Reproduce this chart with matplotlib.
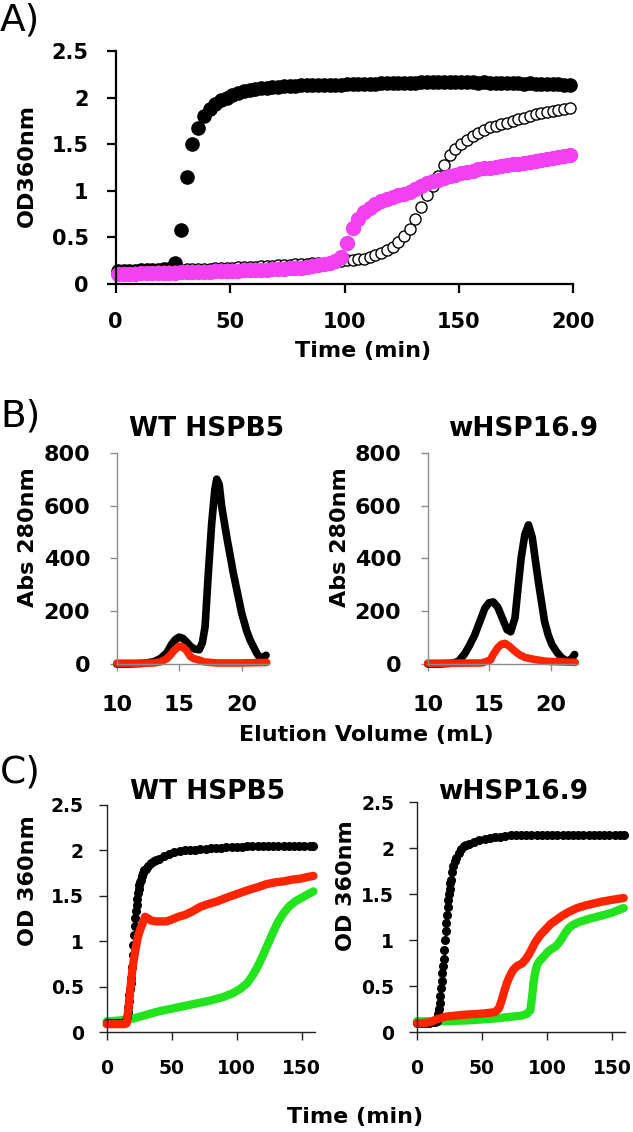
import numpy as np
import matplotlib
matplotlib.use('Agg')
import matplotlib.pyplot as plt
from matplotlib.ticker import FormatStrFormatter

plt.rcParams['font.family'] = 'DejaVu Sans'

# ---------------- data ----------------
# A) OD360 aggregation, one reading every 2.5 min
time_a = np.arange(1, 200, 2.5)
od_a_ctrl = [0.14, 0.14, 0.14, 0.14, 0.15, 0.15, 0.15, 0.15, 0.16, 0.16,
             0.22, 0.58, 1.15, 1.50, 1.67, 1.80, 1.88, 1.93, 1.97, 2.00,
             2.03, 2.05, 2.07, 2.08, 2.09, 2.10, 2.10, 2.11, 2.11, 2.12,
             2.12, 2.12, 2.13, 2.13, 2.13, 2.13, 2.14, 2.14, 2.14, 2.14,
             2.15, 2.15, 2.15, 2.15, 2.15, 2.15, 2.16, 2.16, 2.16, 2.16,
             2.16, 2.16, 2.16, 2.17, 2.17, 2.17, 2.17, 2.17, 2.17, 2.17,
             2.17, 2.17, 2.17, 2.16, 2.17, 2.16, 2.16, 2.16, 2.16, 2.16,
             2.16, 2.15, 2.16, 2.15, 2.15, 2.15, 2.15, 2.15, 2.14, 2.14]
od_a_open = [0.13, 0.13, 0.13, 0.14, 0.14, 0.14, 0.14, 0.15, 0.15, 0.15,
             0.15, 0.15, 0.16, 0.16, 0.16, 0.16, 0.16, 0.17, 0.17, 0.17,
             0.17, 0.18, 0.18, 0.18, 0.18, 0.19, 0.19, 0.19, 0.20, 0.20,
             0.20, 0.21, 0.21, 0.21, 0.22, 0.22, 0.23, 0.23, 0.24, 0.25,
             0.26, 0.26, 0.27, 0.27, 0.29, 0.31, 0.33, 0.36, 0.40, 0.45,
             0.51, 0.59, 0.70, 0.83, 0.95, 1.05, 1.16, 1.28, 1.38, 1.45,
             1.50, 1.55, 1.59, 1.62, 1.65, 1.68, 1.70, 1.72, 1.73, 1.75,
             1.77, 1.78, 1.80, 1.82, 1.84, 1.85, 1.86, 1.87, 1.88, 1.89]
od_a_mag = [0.11, 0.11, 0.11, 0.11, 0.12, 0.12, 0.12, 0.12, 0.12, 0.12,
            0.12, 0.13, 0.13, 0.13, 0.13, 0.13, 0.13, 0.14, 0.14, 0.14,
            0.14, 0.14, 0.15, 0.15, 0.15, 0.15, 0.15, 0.16, 0.16, 0.16,
            0.17, 0.17, 0.17, 0.18, 0.19, 0.20, 0.21, 0.22, 0.25, 0.29,
            0.44, 0.60, 0.70, 0.77, 0.82, 0.86, 0.89, 0.91, 0.93, 0.95,
            0.97, 0.99, 1.02, 1.05, 1.08, 1.10, 1.12, 1.14, 1.16, 1.17,
            1.19, 1.20, 1.21, 1.23, 1.24, 1.25, 1.26, 1.27, 1.28, 1.29,
            1.29, 1.30, 1.31, 1.32, 1.33, 1.34, 1.35, 1.36, 1.37, 1.38]

# B) SEC traces, Abs 280 nm
vol_b1_blk = [10, 11, 12, 12.5, 13, 13.5, 14, 14.4, 14.7, 15, 15.3, 15.6, 15.9, 16.2,
              16.6, 16.85, 17.07, 17.33, 17.6, 17.85, 18.0, 18.2, 18.4, 18.8, 19.33,
              19.7, 20.0, 20.4, 20.67, 21.0, 21.2, 21.47, 21.7, 21.95]
abs_b1_blk = [0, 0, 2, 5, 9, 21, 42, 75, 93, 102, 97, 83, 67, 57,
              54, 80, 141, 344, 533, 660, 700, 680, 596, 482, 344,
              260, 192, 125, 91, 60, 41, 22, 25, 33]
vol_b1_red = [10, 12, 13, 13.5, 14, 14.3, 14.6, 15, 15.3, 15.6, 15.9, 16.2, 16.6, 17, 18, 20, 22]
abs_b1_red = [3, 3, 4, 8, 20, 34, 52, 68, 64, 50, 28, 20, 15, 8, 4, 4, 6]

vol_b2_blk = [10, 11, 12, 12.5, 13, 13.4, 13.84, 14.25, 14.66, 15.0, 15.33, 15.7, 16.1,
              16.45, 16.75, 17.1, 17.35, 17.6, 17.9, 18.2, 18.5, 19.0, 19.5, 19.8,
              20.1, 20.5, 20.9, 21.4, 21.7, 21.95]
abs_b2_blk = [0, 0, 3, 10, 38, 70, 112, 162, 212, 232, 235, 215, 170,
              130, 122, 174, 290, 401, 490, 527, 480, 312, 162, 110,
              74, 45, 23, 10, 20, 36]
vol_b2_red = [10, 12, 14.4, 15.1, 15.33, 15.7, 16.0, 16.3, 16.7, 17.1, 17.5, 17.9, 18.7, 19.7, 22]
abs_b2_red = [3, 3, 4, 15, 36, 62, 75, 78, 65, 48, 34, 25, 17, 10, 6]

# C) OD360 with chaperones
t_c1_blk = [0, 3, 6, 9, 12, 14, 15, 15.5, 16, 16.5, 17, 17.5, 18, 18.5, 19, 19.5, 20,
            20.5, 21, 21.5, 22, 22.5, 23, 23.5, 24, 24.5, 25, 25.5, 26, 27, 28, 29, 30,
            32, 34, 36, 38, 40, 44, 48, 52, 56, 60, 64, 68, 72, 76, 80, 84, 88, 92, 96,
            100, 104, 108, 112, 116, 120, 124, 128, 132, 136, 140, 144, 148, 152, 156, 159]
od_c1_blk = [0.10, 0.10, 0.10, 0.10, 0.10, 0.11, 0.13, 0.17, 0.22, 0.28, 0.34, 0.41, 0.48, 0.54, 0.60, 0.72, 0.85,
             0.96, 1.07, 1.17, 1.26, 1.33, 1.40, 1.47, 1.53, 1.58, 1.62, 1.65, 1.68, 1.72, 1.75, 1.78, 1.80,
             1.83, 1.86, 1.88, 1.90, 1.91, 1.94, 1.96, 1.98, 1.99, 2.00, 2.01, 2.01, 2.02, 2.02, 2.03, 2.03, 2.03, 2.04, 2.04,
             2.04, 2.04, 2.05, 2.05, 2.05, 2.05, 2.05, 2.05, 2.05, 2.05, 2.05, 2.05, 2.05, 2.05, 2.05, 2.05]
t_c1_red = [0, 5, 10, 14, 15.4, 16, 17, 18, 20, 22, 24, 26, 28, 29.5, 31, 34, 38, 42, 46,
            50, 55, 60, 66, 72, 78, 85, 92, 98, 104, 110, 117, 123, 130, 136, 143, 149, 155, 159]
od_c1_red = [0.09, 0.09, 0.09, 0.09, 0.10, 0.18, 0.30, 0.45, 0.72, 0.90, 1.05, 1.14, 1.21, 1.27, 1.26, 1.23, 1.22, 1.22, 1.22,
             1.24, 1.27, 1.29, 1.33, 1.38, 1.41, 1.44, 1.48, 1.51, 1.54, 1.57, 1.60, 1.63, 1.65, 1.66, 1.68, 1.69, 1.71, 1.72]
t_c1_grn = [0, 10, 20, 30, 40, 50, 60, 70, 80, 90, 97, 103, 108, 112, 116, 120, 124,
            128, 132, 136, 140, 145, 150, 155, 159]
od_c1_grn = [0.12, 0.13, 0.15, 0.19, 0.23, 0.26, 0.29, 0.32, 0.35, 0.39, 0.43, 0.48, 0.54, 0.62, 0.72, 0.84, 0.97,
             1.10, 1.22, 1.31, 1.38, 1.44, 1.48, 1.52, 1.55]

t_c2_blk = [0, 3, 6, 9, 12, 14, 15, 15.5, 16, 16.5, 17, 17.5, 18, 18.5, 19, 19.5, 20, 20.5,
            21, 21.5, 22, 22.5, 23, 23.5, 24, 24.5, 25, 25.5, 26, 27, 28, 29, 30, 32, 34,
            36, 38, 40, 44, 48, 52, 56, 60, 64, 68, 72, 76, 80, 84, 88, 92, 96, 100, 104,
            108, 112, 116, 120, 124, 128, 132, 136, 140, 144, 148, 152, 156, 159]
od_c2_blk = [0.10, 0.10, 0.10, 0.10, 0.11, 0.11, 0.12, 0.13, 0.16, 0.20, 0.25, 0.32, 0.40, 0.48, 0.56, 0.64, 0.72, 0.80,
             0.90, 1.00, 1.10, 1.19, 1.28, 1.36, 1.44, 1.50, 1.56, 1.62, 1.66, 1.74, 1.81, 1.86, 1.90, 1.95, 1.99,
             2.02, 2.04, 2.05, 2.07, 2.09, 2.10, 2.11, 2.12, 2.12, 2.13, 2.14, 2.14, 2.14, 2.14, 2.15, 2.15, 2.15, 2.15, 2.15,
             2.15, 2.15, 2.15, 2.15, 2.15, 2.15, 2.15, 2.15, 2.15, 2.15, 2.14, 2.14, 2.14, 2.14]
t_c2_red = [0, 5, 10, 15, 22, 35, 47, 55, 60, 63, 65, 67, 69, 71, 74, 77, 81, 84, 87, 91,
            95, 99, 103, 107, 112, 117, 123, 130, 136, 142, 150, 159]
od_c2_red = [0.10, 0.10, 0.11, 0.14, 0.17, 0.19, 0.20, 0.21, 0.22, 0.26, 0.34, 0.44, 0.53, 0.60, 0.68, 0.72,
             0.75, 0.80, 0.87, 0.98, 1.06, 1.12, 1.18, 1.22, 1.27, 1.31, 1.35, 1.38, 1.40, 1.42, 1.44, 1.46]
t_c2_grn = [0, 20, 40, 60, 73, 80, 84.6, 87.2, 88.5, 89.7, 91, 92.3, 94, 96, 98.5, 101, 104,
            106.4, 109, 111.5, 114, 116.7, 119, 121.8, 125, 129.5, 134, 139.7, 145, 150, 155, 159]
od_c2_grn = [0.12, 0.12, 0.13, 0.15, 0.17, 0.18, 0.20, 0.24, 0.38, 0.55, 0.66, 0.73, 0.77, 0.80, 0.84, 0.88, 0.91,
             0.93, 0.97, 1.02, 1.08, 1.13, 1.16, 1.18, 1.20, 1.22, 1.24, 1.26, 1.28, 1.30, 1.33, 1.35]

MAGENTA = '#F340F0'
RED = '#FF2400'
GREEN = '#22E41C'

# ---------------- layout (pixels of a 633x1132 image) ----------------
W, H = 633, 1132
fig = plt.figure(figsize=(W / 100, H / 100), dpi=100)


def add_ax(x0, y_bottom, w, h):
    return fig.add_axes([x0 / W, 1 - y_bottom / H, w / W, h / H])


def style(ax, color, lw, tick_len, fs, xpad, ypad):
    for s in ('top', 'right'):
        ax.spines[s].set_visible(False)
    for s in ('left', 'bottom'):
        ax.spines[s].set_color(color)
        ax.spines[s].set_linewidth(lw)
    ax.tick_params(direction='out', length=tick_len, width=lw, color=color,
                   labelsize=fs, labelcolor='black')
    ax.tick_params(axis='x', pad=xpad)
    ax.tick_params(axis='y', pad=ypad)
    for lab in ax.get_xticklabels() + ax.get_yticklabels():
        lab.set_fontweight('bold')


def txt(x, y, s, size=16, weight='bold', rot=0, ha='center', va='center'):
    fig.text(x / W, 1 - y / H, s, fontsize=size, fontweight=weight,
             rotation=rot, ha=ha, va=va)


# ---- A ----
axA = add_ax(115.7, 284, 457.6, 233)
axA.plot(time_a, od_a_ctrl, 'o', color='black', ms=9.5, mec='black', clip_on=False)
axA.plot(time_a, od_a_open, 'o', mfc='white', mec='black', ms=8, mew=1.0, clip_on=False)
axA.plot(time_a, od_a_mag, 'o', color=MAGENTA, ms=10, mec=MAGENTA, clip_on=False)
axA.set_xlim(0, 200)
axA.set_ylim(0, 2.5)
axA.set_xticks([0, 50, 100, 150, 200])
axA.set_yticks([0, 0.5, 1, 1.5, 2, 2.5])
axA.yaxis.set_major_formatter(FormatStrFormatter('%g'))
style(axA, 'black', 1.6, 6.5, 15, 14, 13)

# ---- B ----
axB1 = add_ax(116.7, 664, 152.5, 211.3)
axB1.plot(vol_b1_blk, abs_b1_blk, '-', color='black', lw=5.5, solid_capstyle='round', clip_on=False)
axB1.plot(vol_b1_red, abs_b1_red, '-', color=RED, lw=5.5, solid_capstyle='round', clip_on=False)
axB2 = add_ax(427.7, 664, 150, 211.3)
axB2.plot(vol_b2_blk, abs_b2_blk, '-', color='black', lw=5.5, solid_capstyle='round', clip_on=False)
axB2.plot(vol_b2_red, abs_b2_red, '-', color=RED, lw=5.5, solid_capstyle='round', clip_on=False)
for ax in (axB1, axB2):
    ax.set_xlim(10, 22.2)
    ax.set_ylim(0, 800)
    ax.set_xticks([10, 15, 20])
    ax.set_yticks([0, 200, 400, 600, 800])
    style(ax, '#8C8C8C', 1.0, 5, 16, 17, 14)

# ---- C ----
axC1 = add_ax(106.7, 1032.3, 208, 227.3)
axC1.plot(t_c1_grn, od_c1_grn, '-', color=GREEN, lw=6, solid_capstyle='round', clip_on=False)
axC1.plot(t_c1_blk, od_c1_blk, 'o', color='black', ms=5.5, clip_on=False)
axC1.plot(t_c1_red, od_c1_red, '-', color=RED, lw=6, solid_capstyle='round', clip_on=False)
axC2 = add_ax(417, 1032.3, 208, 230)
axC2.plot(t_c2_grn, od_c2_grn, '-', color=GREEN, lw=6, solid_capstyle='round', clip_on=False)
axC2.plot(t_c2_blk, od_c2_blk, 'o', color='black', ms=5.5, clip_on=False)
axC2.plot(t_c2_red, od_c2_red, '-', color=RED, lw=6, solid_capstyle='round', clip_on=False)
for ax in (axC1, axC2):
    ax.set_xlim(0, 160)
    ax.set_ylim(0, 2.5)
    ax.set_xticks([0, 50, 100, 150])
    ax.set_yticks([0, 0.5, 1, 1.5, 2, 2.5])
    ax.yaxis.set_major_formatter(FormatStrFormatter('%g'))
    style(ax, '#222222', 1.0, 5.5, 13.5, 14, 11)

# ---- text ----
txt(0, 3, 'A)', size=27, weight='normal', ha='left', va='top')
txt(0, 398, 'B)', size=27, weight='normal', ha='left', va='top')
txt(0, 755, 'C)', size=27, weight='normal', ha='left', va='top')

txt(363, 351, 'Time (min)')
txt(27, 166, 'OD360nm', rot=90)

txt(207, 429, 'WT HSPB5', size=19)
txt(523, 429, 'wHSP16.9', size=19)
txt(28, 537, 'Abs 280nm', rot=90)
txt(340, 537, 'Abs 280nm', rot=90)
txt(366, 735, 'Elution Volume (mL)')

txt(208, 792, 'WT HSPB5', size=19)
txt(513, 792, 'wHSP16.9', size=19)
txt(28, 881, 'OD 360nm', rot=90)
txt(346, 886, 'OD 360nm', rot=90)
txt(355, 1117, 'Time (min)')

fig.savefig('out.png', dpi=100)
